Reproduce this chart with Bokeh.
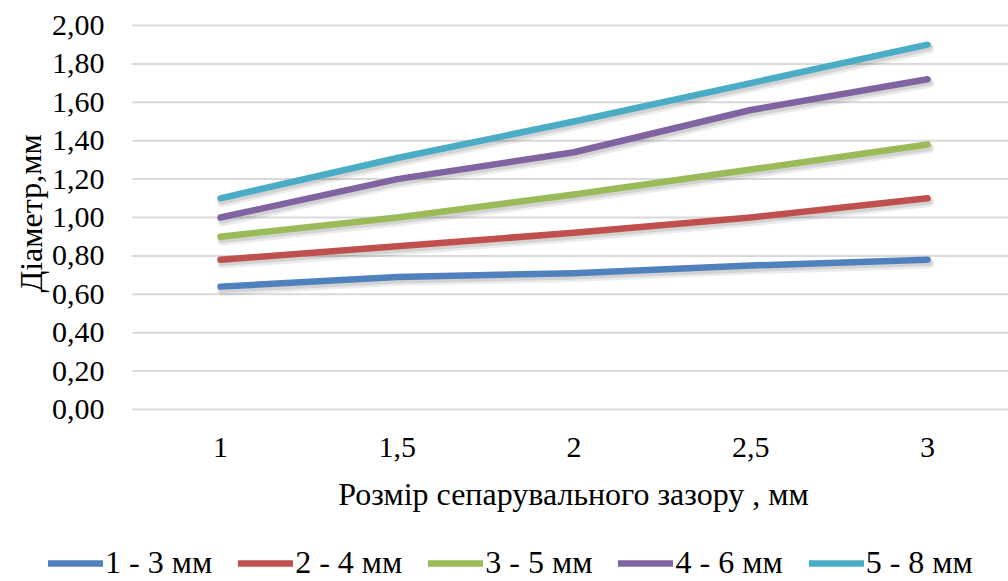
from bokeh.plotting import figure
from bokeh.models import Range1d, Legend, LegendItem, Label, ColumnDataSource
from bokeh.core.properties import value
from bokeh.embed import file_html
from bokeh.resources import INLINE

x_vals = [1, 1.5, 2, 2.5, 3]
x_labels = ["1", "1,5", "2", "2,5", "3"]
series_names = ["1 - 3 мм", "2 - 4 мм", "3 - 5 мм", "4 - 6 мм", "5 - 8 мм"]
s1 = [0.64, 0.69, 0.71, 0.75, 0.78]
s2 = [0.78, 0.85, 0.92, 1.00, 1.10]
s3 = [0.90, 1.00, 1.12, 1.25, 1.38]
s4 = [1.00, 1.20, 1.34, 1.56, 1.72]
s5 = [1.10, 1.31, 1.50, 1.70, 1.90]
colors = ["#4F81BD", "#C0504D", "#9BBB59", "#8064A2", "#4BACC6"]
y_ticks = [0, 0.2, 0.4, 0.6, 0.8, 1.0, 1.2, 1.4, 1.6, 1.8, 2.0]
y_labels = ["0,00", "0,20", "0,40", "0,60", "0,80", "1,00", "1,20", "1,40", "1,60", "1,80", "2,00"]
x_title = "Розмір сепарувального зазору , мм"
y_title = "Діаметр,мм"

FONT = "Liberation Serif"

# plot area bounds (data units)
X_LEFT, X_RIGHT = 0.751, 3.229

p = figure(width=1008, height=581, output_backend="svg", toolbar_location=None,
           x_range=Range1d(0.3777, 3.229), y_range=Range1d(-0.8958, 2.1302),
           x_axis_type=None, y_axis_type=None,
           min_border_left=0, min_border_right=0, min_border_top=0, min_border_bottom=0)
p.outline_line_color = None
p.background_fill_color = "white"
p.border_fill_color = "white"
p.grid.visible = False

# horizontal gridlines
p.segment(x0=X_LEFT, x1=X_RIGHT, y0=y_ticks, y1=y_ticks, line_color="#D9D9D9", line_width=2)

# y tick labels
p.text(x=0.6719, y=y_ticks, text=y_labels, text_align="right", text_baseline="middle",
       text_font=value(FONT), text_font_size=value("30px"), text_color="black")
# x tick labels
p.text(x=x_vals, y=-0.198, text=x_labels, text_align="center", text_baseline="middle",
       text_font=value(FONT), text_font_size=value("30px"), text_color="black")

# axis titles
p.add_layout(Label(x=573, y=88, x_units="screen", y_units="screen", text=x_title,
                   text_font=FONT, text_font_size="32px", text_align="center",
                   text_baseline="middle", text_color="black"))
p.add_layout(Label(x=30, y=368, x_units="screen", y_units="screen", text=y_title,
                   angle=1.5708, text_font=FONT, text_font_size="32px", text_align="center",
                   text_baseline="middle", text_color="black"))

all_series = [s1, s2, s3, s4, s5]
for ys in all_series:
    p.line([x + 0.005 for x in x_vals], [y - 0.02 for y in ys], line_width=10,
           line_color="black", line_alpha=0.08, line_cap="round", line_join="round")
    p.line([x + 0.004 for x in x_vals], [y - 0.015 for y in ys], line_width=7,
           line_color="black", line_alpha=0.10, line_cap="round", line_join="round")

items = []
for name, ys, c in zip(series_names, all_series, colors):
    r = p.line(x_vals, ys, line_width=6.5, line_color=c, line_cap="round", line_join="round")
    items.append(LegendItem(label=name, renderers=[r]))

legend = Legend(items=items, orientation="horizontal", location=(48, 0),
                label_text_font=FONT, label_text_font_size="32px", label_text_color="black",
                glyph_width=55, glyph_height=30, label_standoff=2, spacing=26,
                border_line_color=None, background_fill_alpha=0, padding=0, margin=0)
p.add_layout(legend, "center")

open("out.html", "w").write(file_html(p, INLINE))
